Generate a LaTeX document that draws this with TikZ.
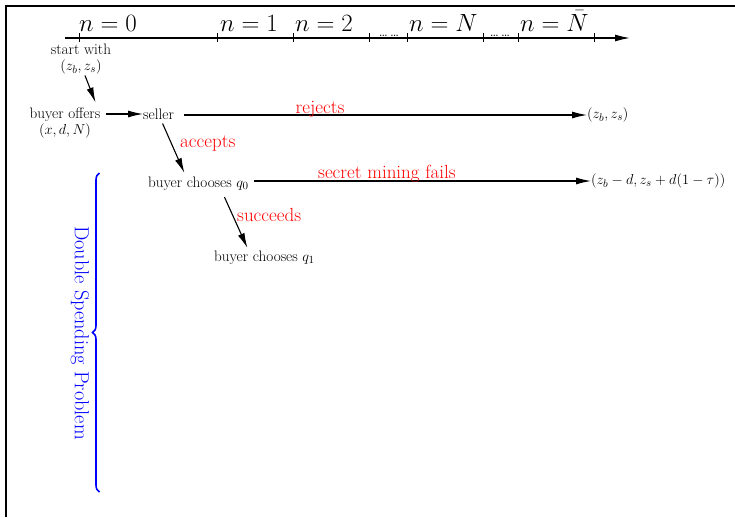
\documentclass[tikz,border=0pt]{standalone}
\usetikzlibrary{arrows.meta,decorations.pathreplacing,calc}
\begin{document}
\begin{tikzpicture}[x=1pt,y=-1pt,
  lbl/.style={font=\fontsize{15.2}{16.5}\selectfont, inner sep=0pt, align=center},
  redlbl/.style={font=\fontsize{19}{21}\selectfont, text=red, inner sep=0pt},
  nlbl/.style={font=\fontsize{25}{28}\selectfont, inner sep=0pt, anchor=base west},
  dotlbl/.style={font=\fontsize{14}{15}\selectfont, inner sep=0pt, anchor=base},
  arr/.style={-{Latex[length=15pt,width=7pt]}, line width=1.1pt},
  tick/.style={line width=1pt},
]
\useasboundingbox (0,0) rectangle (735,517);
\draw[line width=1.4pt] (6,517) -- (6,6) -- (735,6);

% timeline
\coordinate (tstart) at (65,38);
\coordinate (tend) at (630,38);
\draw[arr, line width=1.3pt] (tstart) -- (tend);
\foreach \x in {79,217,293,369,407,483,518,594}
  \draw[tick] (\x,33) -- (\x,42);
\node[nlbl] (n0) at (79,31) {$n=0$};
\node[nlbl] (n1) at (220,31) {$n=1$};
\node[nlbl] (n2) at (295,31) {$n=2$};
\node[nlbl] (nN) at (409,31) {$n=N$};
\node[nlbl] (nNb) at (520,31) {$n=\bar{N}$};
\node[dotlbl] (d1) at (389,36) {\dots\,\dots};
\node[dotlbl] (d2) at (500,36) {\dots\,\dots};

% nodes
\node[lbl] (start) at (81,59) {start with\\$(z_b,z_s)$};
\node[lbl] (offer) at (65,123) {buyer offers\\$(x,d,N)$};
\node[lbl, anchor=west] (seller) at (143,114) {seller};
\node[lbl, anchor=west] (out1) at (587,115) {$(z_b,z_s)$};
\node[lbl, anchor=west] (q0) at (148,184) {buyer chooses $q_0$};
\node[lbl, anchor=west] (out2) at (591,181) {$(z_b-d,z_s+d(1-\tau))$};
\node[lbl, anchor=west] (q1) at (214,258) {buyer chooses $q_1$};

% connectors
\draw[arr] ([xshift=4pt,yshift=-1pt]start.south) -- ([xshift=-5pt,yshift=5pt]offer.north east);
\draw[arr] ($(offer.east |- seller.west)+(5,0)$) -- (seller.west);
\draw[arr] ([xshift=10pt,yshift=-1pt]seller.east) -- (out1.west);
\draw[arr] ([xshift=4pt,yshift=-4pt]seller.south) -- ([xshift=-14pt,yshift=4pt]q0.north);
\draw[arr] ($(q0.east |- out2.west)+(5,0)$) -- (out2.west);
\draw[arr] ([xshift=26pt,yshift=-6pt]q0.south) -- ([xshift=-17pt,yshift=3pt]q1.north);

% edge labels
\node[redlbl, anchor=base] (rej) at (320,113) {rejects};
\node[redlbl, anchor=base west] (acc) at (180,147) {accepts};
\node[redlbl, anchor=base west] (smf) at (318,178) {secret mining fails};
\node[redlbl, anchor=base west] (suc) at (237,221) {succeeds};

% brace
\draw[blue, line width=1.6pt, decorate, decoration={brace, amplitude=7pt}]
  (99.5,492) -- (99.5,173);
\node[font=\fontsize{20.3}{22}\selectfont, text=blue, inner sep=0pt, rotate=-90] (dsp) at (80,333) {Double Spending Problem};
\end{tikzpicture}
\end{document}
